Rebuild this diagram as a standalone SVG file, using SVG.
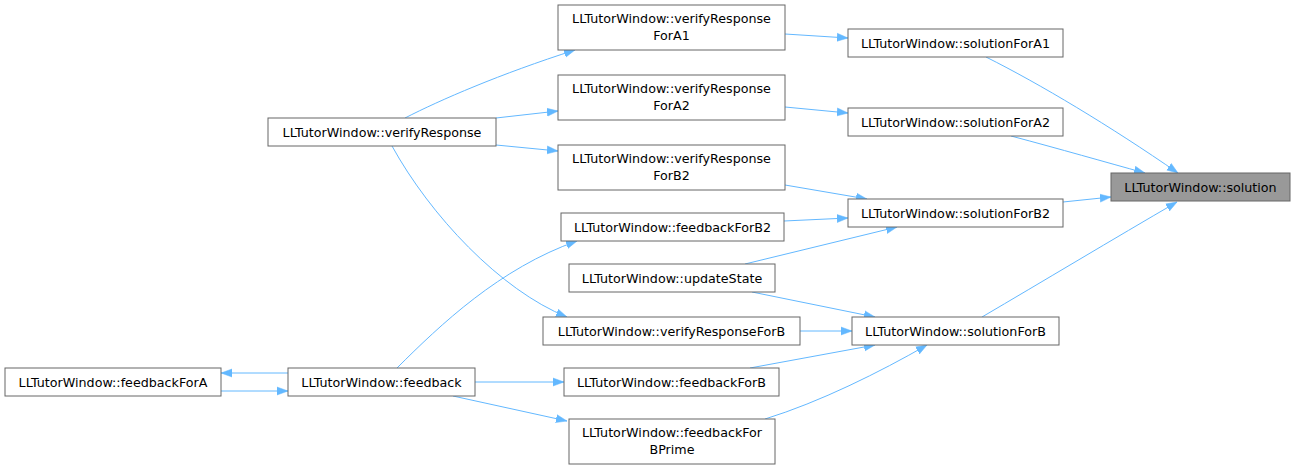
<svg xmlns="http://www.w3.org/2000/svg" width="1295" height="470" viewBox="0 0 1295 470">
<style>
.node rect{fill:#ffffff;stroke:#666666;stroke-width:1}
.node.hl rect{fill:#999999}
.node text{font-family:"DejaVu Sans","Liberation Sans",sans-serif;font-size:12.7px;fill:#000000;text-anchor:middle}
.edges path{fill:none;stroke:#63b8ff;stroke-width:1;marker-end:url(#ah)}
</style>
<defs>
<marker id="ah" markerUnits="userSpaceOnUse" markerWidth="12" markerHeight="10" refX="11" refY="4" orient="auto" viewBox="0 0 12 8">
<path d="M0,0 L11,4 L0,8 z" fill="#63b8ff" stroke="#63b8ff" stroke-width="0.5"/>
</marker>
</defs>
<rect width="1295" height="470" fill="#ffffff"/>
<g class="edges" id="edges">
<path d="M986,57 C1040,84 1110,126 1178,173"/>
<path d="M1011,136 C1060,149 1105,162 1145,173"/>
<path d="M1063,202 L1111,197"/>
<path d="M982,317 C1040,283 1115,238 1177,202"/>
<path d="M785,34 L848,38"/>
<path d="M785,107 L848,113"/>
<path d="M785,185 L867,199"/>
<path d="M784,221 L848,218"/>
<path d="M745,264 L897,227"/>
<path d="M752,292 L875,317"/>
<path d="M800,331 L852,331"/>
<path d="M750,368 L875,345"/>
<path d="M765,419 C820,402 880,372 927,345"/>
<path d="M405,118 C440,100 500,74 575,50"/>
<path d="M496,118 L558,111"/>
<path d="M496,145 L558,151"/>
<path d="M392,146 C430,215 500,290 567,317"/>
<path d="M397,368 C440,325 500,268 577,241"/>
<path d="M288,373 L221,373"/>
<path d="M221,391 L288,391"/>
<path d="M475,382 L564,382"/>
<path d="M453,396 L567,421"/>
</g>
<g class="node hl" id="n_solution"><rect x="1111" y="173" width="179" height="28"/><text x="1200.5" y="191.5">LLTutorWindow::solution</text></g>
<g class="node" id="n_solutionForA1"><rect x="848" y="29" width="215" height="28"/><text x="955.5" y="47.5">LLTutorWindow::solutionForA1</text></g>
<g class="node" id="n_solutionForA2"><rect x="848" y="108" width="215" height="28"/><text x="955.5" y="126.5">LLTutorWindow::solutionForA2</text></g>
<g class="node" id="n_solutionForB2"><rect x="848" y="199" width="215" height="28"/><text x="955.5" y="217.5">LLTutorWindow::solutionForB2</text></g>
<g class="node" id="n_solutionForB"><rect x="852" y="317" width="207" height="28"/><text x="955.5" y="335.5">LLTutorWindow::solutionForB</text></g>
<g class="node" id="n_verifyResponseForA1"><rect x="558" y="5" width="227" height="45"/><text x="671.5" y="23">LLTutorWindow::verifyResponse</text><text x="671.5" y="40">ForA1</text></g>
<g class="node" id="n_verifyResponseForA2"><rect x="558" y="75" width="227" height="45"/><text x="671.5" y="93">LLTutorWindow::verifyResponse</text><text x="671.5" y="110">ForA2</text></g>
<g class="node" id="n_verifyResponseForB2"><rect x="558" y="145" width="227" height="45"/><text x="671.5" y="163">LLTutorWindow::verifyResponse</text><text x="671.5" y="180">ForB2</text></g>
<g class="node" id="n_feedbackForB2"><rect x="561" y="213" width="223" height="28"/><text x="672.5" y="231.5">LLTutorWindow::feedbackForB2</text></g>
<g class="node" id="n_updateState"><rect x="569" y="264" width="206" height="28"/><text x="672" y="282.5">LLTutorWindow::updateState</text></g>
<g class="node" id="n_verifyResponseForB"><rect x="543" y="317" width="257" height="28"/><text x="671.5" y="335.5">LLTutorWindow::verifyResponseForB</text></g>
<g class="node" id="n_feedbackForB"><rect x="564" y="368" width="215" height="28"/><text x="671.5" y="386.5">LLTutorWindow::feedbackForB</text></g>
<g class="node" id="n_feedbackForBPrime"><rect x="569" y="419" width="206" height="45"/><text x="672" y="437">LLTutorWindow::feedbackFor</text><text x="672" y="454">BPrime</text></g>
<g class="node" id="n_verifyResponse"><rect x="268" y="118" width="228" height="28"/><text x="382" y="136.5">LLTutorWindow::verifyResponse</text></g>
<g class="node" id="n_feedback"><rect x="288" y="368" width="187" height="28"/><text x="381.5" y="386.5">LLTutorWindow::feedback</text></g>
<g class="node" id="n_feedbackForA"><rect x="5" y="368" width="216" height="28"/><text x="113" y="386.5">LLTutorWindow::feedbackForA</text></g>
</svg>
